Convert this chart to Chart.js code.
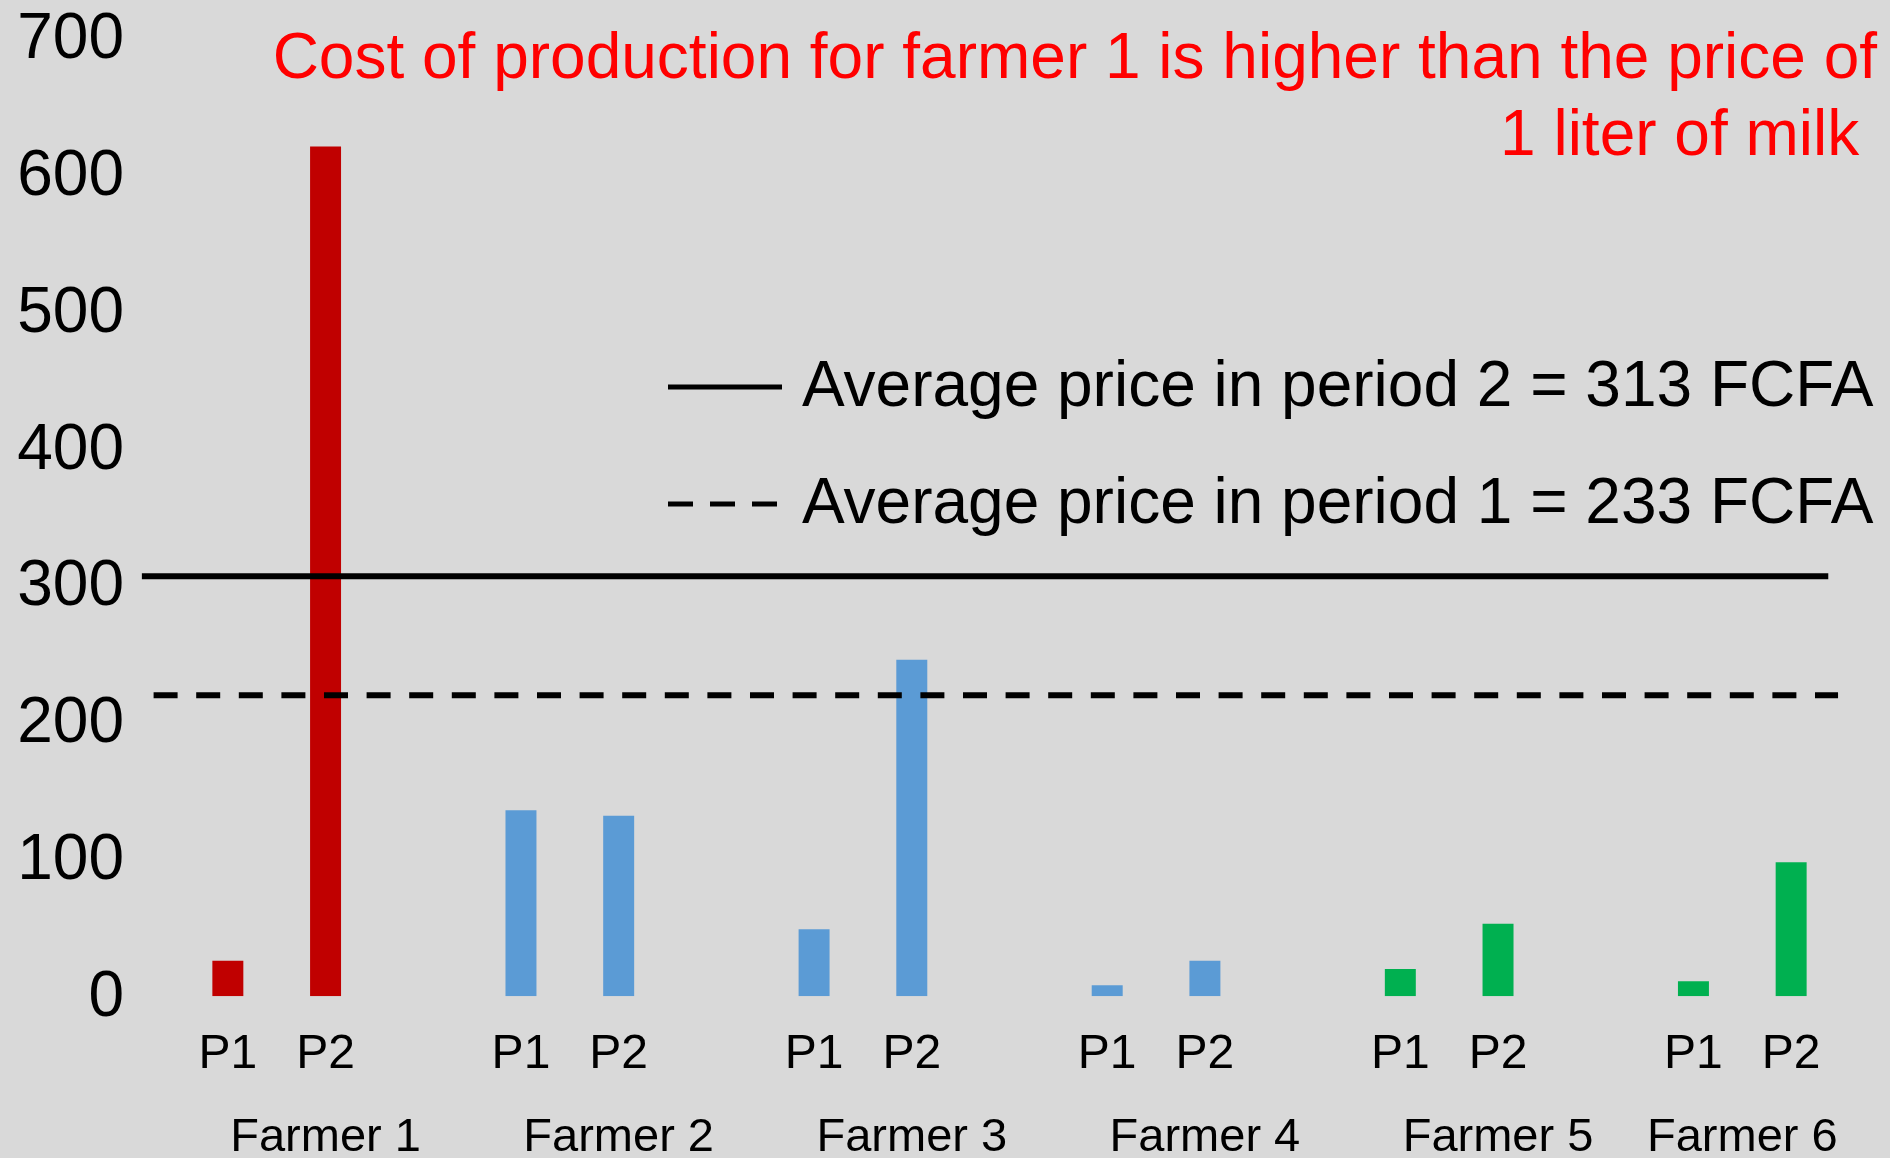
<!DOCTYPE html>
<html>
<head>
<meta charset="utf-8">
<script src="https://cdn.jsdelivr.net/npm/chart.js@4.4.1/dist/chart.umd.min.js"></script>
<style>
  html, body { margin: 0; padding: 0; background: #d9d9d9; overflow: hidden; }
  #wrap { width: 1890px; height: 1158px; }
</style>
</head>
<body>
<div id="wrap"><canvas id="milkChart"></canvas></div>
<script>
// cost of production per liter
const farmers = ["Farmer 1", "Farmer 2", "Farmer 3", "Farmer 4", "Farmer 5", "Farmer 6"];
const periods = ["P1", "P2"];
const costP1 = [26, 136, 49, 8, 20, 11];
const costP2 = [621, 132, 246, 26, 53, 98];
const farmerColors = ["#c00000", "#5b9bd5", "#5b9bd5", "#5b9bd5", "#00b050", "#00b050"];

// average milk price lines (as drawn) and their legend text
const avgPeriod2 = 307;
const avgPeriod1 = 220;
const legendTexts = ["Average price in period 2 = 313 FCFA", "Average price in period 1 = 233 FCFA"];
const titleLines = ["Cost of production for farmer 1 is higher than the price of", "1 liter of milk "];

// y ticks
const yMin = 0, yMax = 700, yStep = 100;

// where the farmer names sit (in bar slots) and how far the price lines run
const farmerLabelAt = [1, 4, 7, 10, 13, 15.5];
const solidSpan = [-0.88, 16.38];
const dashedSpan = [-0.76, 16.48];

const FONT = "'Liberation Sans', Arial, sans-serif";
Chart.defaults.font.family = FONT;
Chart.defaults.color = "#000";

// bars with an empty slot between farmers
const labels = [], values = [], colors = [];
farmers.forEach((f, i) => {
  if (i > 0) { labels.push(""); values.push(null); colors.push("rgba(0,0,0,0)"); }
  labels.push(periods[0]); values.push(costP1[i]); colors.push(farmerColors[i]);
  labels.push(periods[1]); values.push(costP2[i]); colors.push(farmerColors[i]);
});

const overlayText = {
  id: "overlayText",
  afterDraw(chart) {
    const ctx = chart.ctx;
    ctx.save();
    ctx.font = "64px " + FONT;
    ctx.fillStyle = "#ff0000";
    ctx.textAlign = "right";
    ctx.textBaseline = "alphabetic";
    titleLines.forEach((t, i) => ctx.fillText(t, 1877, 78 + i * 77));

    ctx.font = "64px " + FONT;
    ctx.fillStyle = "#000";
    ctx.textAlign = "left";
    const dashes = [[], [25, 17]];
    legendTexts.forEach((t, i) => {
      const y = 387 + i * 117;
      ctx.beginPath();
      ctx.setLineDash(dashes[i]);
      ctx.lineWidth = 5;
      ctx.strokeStyle = "#000";
      ctx.moveTo(668, y);
      ctx.lineTo(782, y);
      ctx.stroke();
      ctx.setLineDash([]);
      ctx.fillText(t, 802, y + 19);
    });
    ctx.restore();
  }
};

new Chart(document.getElementById("milkChart"), {
  type: "bar",
  data: {
    labels: labels,
    datasets: [
      {
        type: "line",
        xAxisID: "xf",
        data: [{ x: solidSpan[0], y: avgPeriod2 }, { x: solidSpan[1], y: avgPeriod2 }],
        borderColor: "#000",
        borderWidth: 6,
        pointRadius: 0,
        clip: false,
        order: 1
      },
      {
        type: "line",
        xAxisID: "xf",
        data: [{ x: dashedSpan[0], y: avgPeriod1 }, { x: dashedSpan[1], y: avgPeriod1 }],
        borderColor: "#000",
        borderWidth: 6,
        borderDash: [24, 18.6],
        pointRadius: 0,
        clip: false,
        order: 1
      },
      {
        data: values,
        backgroundColor: colors,
        grouped: false,
        barPercentage: 0.317,
        categoryPercentage: 1,
        order: 2
      }
    ]
  },
  options: {
    responsive: true,
    maintainAspectRatio: false,
    animation: false,
    layout: { padding: { left: 0, right: 50, top: 0, bottom: 0 } },
    plugins: { legend: { display: false }, tooltip: { enabled: false } },
    scales: {
      x: {
        type: "category",
        position: "bottom",
        weight: 0,
        offset: true,
        grid: { display: false, drawTicks: false },
        border: { display: false },
        ticks: { autoSkip: false, maxRotation: 0, minRotation: 0, padding: 30, font: { size: 48 } },
        afterFit: (s) => { s.height = 90; }
      },
      xf: {
        type: "linear",
        position: "bottom",
        weight: 1,
        min: -0.5,
        max: 16.5,
        offset: false,
        grid: { display: false, drawTicks: false, offset: false },
        border: { display: false },
        afterBuildTicks: (s) => { s.ticks = farmerLabelAt.map((v) => ({ value: v })); },
        ticks: {
          autoSkip: false, maxRotation: 0, minRotation: 0, padding: 24,
          font: { size: 47 },
          callback: (v, i) => farmers[i]
        },
        afterFit: (s) => { s.height = 71.7; }
      },
      y: {
        min: yMin,
        max: yMax,
        grid: { display: false, drawTicks: false },
        border: { display: false },
        ticks: { stepSize: yStep, padding: 55, labelOffset: 2, font: { size: 64 } },
        afterFit: (s) => { s.width = 179; s.paddingTop = 38.5; s.paddingBottom = 0; }
      }
    }
  },
  plugins: [overlayText]
});
</script>
</body>
</html>
